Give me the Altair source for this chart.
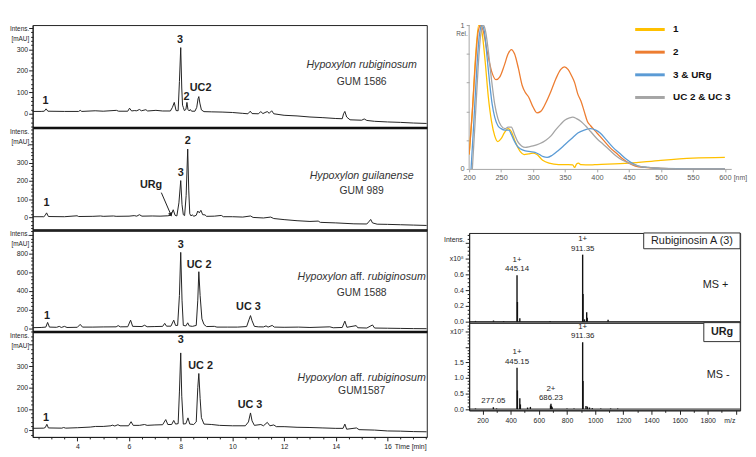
import altair as alt
import pandas as pd

FONT = "Liberation Sans"
INK = "#1e1e1e"
GREY = "#595959"

# ---------------- HPLC traces: (time [min], intensity [mAU]) ----------------
TRACE_1586 = [(2.07,11),(2.6,11),(2.72,12),(2.79,23),(2.86,12),(3.5,11),(4.05,11),(4.11,16),(4.17,11),(4.69,14),(5.0,12),(5.51,16),(5.6,12),(5.95,12),(6.02,26),(6.1,13),(6.2,15),(6.3,14),(6.4,20),(6.48,14),(6.65,19),(6.72,13),(7.04,16),(7.3,13),(7.6,13),(7.68,30),(7.75,53),(7.82,15),(7.9,14),(7.95,150),(8.0,308),(8.04,120),(8.07,40),(8.1,30),(8.14,15),(8.2,20),(8.24,53),(8.28,20),(8.33,13),(8.37,20),(8.42,12),(8.55,12),(8.62,30),(8.67,70),(8.7,80),(8.74,50),(8.8,18),(8.9,10),(9.2,9),(9.6,8),(10.0,6),(10.4,2),(10.6,0),(10.69,12),(10.76,1),(11.0,0),(11.1,10),(11.18,1),(11.3,8),(11.36,10),(11.42,2),(11.52,14),(11.6,0),(12.0,-7),(12.5,-10),(13.0,-15),(13.5,-18),(14.0,-22),(14.25,-23),(14.3,0),(14.35,11),(14.42,-15),(14.55,-28),(15.0,-30),(15.1,-24),(15.2,-31),(15.5,-35),(16.0,-38),(16.5,-40),(17.0,-43),(17.52,-45)]
TRACE_989 = [(2.07,4),(2.7,4),(2.75,10),(2.81,25),(2.88,5),(3.5,4),(3.99,9),(4.05,5),(4.6,6),(4.9,8),(5.0,6),(5.4,8),(5.5,6),(6.0,7),(6.2,10),(6.3,7),(6.4,15),(6.5,7),(6.9,8),(7.2,7),(7.5,9),(7.62,12),(7.71,42),(7.78,12),(7.85,8),(7.93,80),(8.0,202),(8.05,70),(8.1,15),(8.15,10),(8.21,120),(8.27,375),(8.31,150),(8.35,20),(8.4,8),(8.45,15),(8.5,6),(8.6,12),(8.66,35),(8.72,25),(8.78,39),(8.85,15),(8.94,14),(9.0,6),(9.3,7),(9.57,11),(9.65,4),(10.0,4),(10.4,2),(10.7,8),(10.8,0),(11.2,-3),(11.48,2),(11.6,-6),(12.0,-12),(12.5,-18),(13.0,-22),(13.32,-20),(13.4,-27),(14.0,-30),(14.7,-35),(15.2,-36),(15.3,-20),(15.35,-11),(15.42,-30),(15.6,-37),(16.0,-38),(16.5,-40),(17.0,-42),(17.52,-44)]
TRACE_1588 = [(2.07,5),(2.6,8),(2.78,12),(2.85,62),(2.92,12),(3.2,10),(3.3,20),(3.38,8),(3.5,20),(3.6,8),(4.0,10),(4.11,41),(4.2,12),(4.6,12),(5.0,14),(5.5,15),(5.58,28),(5.66,15),(5.95,16),(6.06,86),(6.14,20),(6.5,18),(6.6,32),(6.7,16),(7.0,18),(7.3,20),(7.38,52),(7.45,22),(7.62,22),(7.73,86),(7.8,30),(7.88,30),(7.95,350),(8.0,811),(8.05,300),(8.1,30),(8.2,25),(8.27,58),(8.33,25),(8.45,20),(8.6,30),(8.66,300),(8.7,604),(8.75,350),(8.82,100),(8.9,40),(9.0,18),(9.3,20),(9.4,12),(9.8,12),(10.2,12),(10.55,18),(10.64,90),(10.7,135),(10.76,80),(10.85,20),(11.0,15),(11.2,14),(11.3,25),(11.38,12),(11.54,30),(11.62,12),(12.0,10),(12.56,12),(13.0,8),(13.77,15),(13.9,5),(14.25,8),(14.35,76),(14.43,10),(14.79,28),(14.85,5),(15.2,2),(15.42,35),(15.5,2),(16.0,0),(16.5,-2),(17.0,-4),(17.52,-5)]
TRACE_1587 = [(2.07,10),(2.7,11),(2.76,14),(2.82,29),(2.88,12),(3.4,11),(3.47,14),(3.55,11),(4.0,13),(4.5,16),(4.7,19),(5.0,19),(5.3,22),(5.35,25),(5.45,21),(5.57,27),(5.65,22),(5.98,22),(6.08,41),(6.16,24),(6.4,24),(6.6,28),(6.7,24),(7.0,26),(7.3,27),(7.42,51),(7.5,28),(7.65,28),(7.73,47),(7.8,30),(7.9,32),(7.95,180),(8.0,362),(8.04,160),(8.1,30),(8.2,32),(8.28,59),(8.35,30),(8.5,28),(8.6,40),(8.66,200),(8.7,266),(8.75,150),(8.8,60),(8.9,30),(9.2,28),(9.5,24),(10.0,22),(10.5,22),(10.62,40),(10.7,82),(10.76,45),(10.85,24),(11.1,28),(11.2,22),(11.35,38),(11.45,22),(11.6,26),(11.7,18),(12.0,18),(12.5,15),(13.0,14),(13.5,12),(14.0,10),(14.28,10),(14.35,30),(14.42,6),(14.8,12),(14.9,4),(15.5,2),(16.0,-2),(16.5,-3),(17.0,-5),(17.52,-6)]

# peak labels: (text, time, intensity at label centre)
PEAKS_1586 = [("1", 2.77, 57), ("3", 7.97, 341), ("2", 8.22, 78), ("UC2", 8.77, 120)]
PEAKS_989 = [("1", 2.81, 78), ("URg", 6.85, 180), ("3", 8.0, 242), ("2", 8.27, 419)]
PEAKS_1588 = [("1", 2.83, 131), ("3", 8.0, 894), ("UC 2", 8.71, 677), ("UC 3", 10.62, 231)]
PEAKS_1587 = [("1", 2.79, 60), ("3", 8.0, 420), ("UC 2", 8.77, 303), ("UC 3", 10.68, 121)]
URG_ARROW = [(7.25, 136), (7.61, 18)]

# strain captions: (species text, strain text, time, species y, strain y)
CAPTION_1586 = ("Hypoxylon rubiginosum", "GUM 1586", 15.0, 225, 147)
CAPTION_989 = ("Hypoxylon guilanense", "GUM 989", 15.0, 228, 145)
CAPTION_1588 = ("aff", "GUM 1588", 15.0, 542, 379)
CAPTION_1587 = ("aff", "GUM1587", 15.0, 245, 186)

# ---------------- UV spectra: (wavelength [nm], relative absorbance) ----------------
UV_1 = [(200,0.1),(205,0.4),(210,0.78),(215,1.0),(220,0.95),(225,0.75),(230,0.5),(235,0.33),(240,0.23),(245,0.19),(250,0.21),(255,0.25),(261,0.28),(266,0.26),(272,0.19),(280,0.12),(286,0.1),(293,0.105),(300,0.11),(306,0.1),(315,0.06),(325,0.04),(340,0.03),(355,0.03),(362,0.028),(365,0.01),(368,0.035),(371,0.04),(375,0.03),(390,0.028),(400,0.03),(450,0.04),(500,0.06),(550,0.075),(600,0.08)]
UV_2 = [(200,0.1),(205,0.4),(210,0.75),(214,0.95),(218,1.0),(222,0.96),(228,0.82),(235,0.68),(242,0.62),(248,0.64),(255,0.72),(261,0.8),(266,0.83),(271,0.8),(277,0.7),(283,0.58),(288,0.53),(293,0.5),(300,0.43),(306,0.39),(312,0.4),(320,0.46),(328,0.54),(336,0.63),(343,0.69),(349,0.71),(355,0.69),(360,0.65),(365,0.6),(370,0.52),(375,0.47),(380,0.4),(385,0.33),(390,0.3),(400,0.25),(410,0.2),(420,0.15),(430,0.11),(440,0.07),(450,0.04),(460,0.02),(475,0.01),(500,0.004),(550,0.0),(600,0.0)]
UV_3 = [(203,0.0),(207,0.3),(212,0.7),(216,0.93),(220,1.0),(224,0.95),(228,0.78),(232,0.6),(236,0.45),(240,0.36),(245,0.3),(250,0.28),(256,0.27),(262,0.27),(266,0.24),(270,0.2),(275,0.16),(280,0.14),(288,0.125),(296,0.12),(303,0.115),(310,0.1),(316,0.085),(322,0.08),(330,0.095),(340,0.13),(350,0.17),(360,0.21),(370,0.25),(380,0.27),(390,0.28),(398,0.27),(405,0.25),(415,0.2),(425,0.15),(435,0.11),(445,0.07),(455,0.04),(465,0.02),(480,0.01),(500,0.003),(550,0.0),(600,0.0)]
UV_UC = [(205,0.0),(209,0.3),(214,0.7),(218,0.93),(222,1.0),(226,0.95),(230,0.82),(235,0.62),(240,0.45),(245,0.35),(250,0.3),(256,0.28),(261,0.29),(266,0.29),(271,0.24),(276,0.19),(282,0.16),(288,0.15),(295,0.155),(300,0.16),(310,0.175),(320,0.2),(328,0.23),(335,0.27),(343,0.31),(350,0.34),(357,0.355),(362,0.36),(368,0.35),(375,0.33),(382,0.3),(390,0.26),(400,0.21),(410,0.17),(420,0.13),(430,0.09),(440,0.06),(450,0.04),(465,0.02),(480,0.01),(500,0.004),(550,0.0),(600,0.0)]
UV_SERIES = ["1", "2", "3 & URg", "UC 2 & UC 3"]
UV_COLORS = ["#FFC000", "#ED7D31", "#5B9BD5", "#A5A5A5"]

# ---------------- MS spectra: (m/z, intensity) ----------------
MS_POS = [(150,0.01),(278,0.015),(350,0.008),(445.14,0.59),(448,0.25),(465,0.045),(680,0.008),(911.35,0.85),(914,0.35),(925,0.03),(940,0.12),(944,0.05),(1092,0.025)]
MS_NEG = [(150,0.02),(277.05,0.06),(300,0.02),(445.15,1.33),(448,0.6),(465,0.35),(469,0.15),(520,0.05),(540,0.07),(683,0.12),(686.23,0.17),(690,0.1),(695,0.06),(800,0.02),(850,0.02),(911.36,2.15),(914,0.9),(935,0.1),(945,0.08),(960,0.05),(980,0.03),(1040,0.02),(1110,0.02),(1160,0.02)]
# (charge, m/z text, m/z, intensity)
MS_POS_LABELS = [("1+", "445.14", 445.14, 0.59), ("1+", "911.35", 911.35, 0.85)]
MS_NEG_LABELS = [("", "277.05", 277.05, 0.06), ("1+", "445.15", 445.15, 1.33), ("2+", "686.23", 686.23, 0.17), ("1+", "911.36", 911.36, 2.15)]

# ====================================================================
T_DOMAIN = [2.27, 17.52]
LEFT_W = 400


def chrom_panel(trace, ydom, h, step, major, label_max, peaks, caption, bottom, arrow=None):
    df = pd.DataFrame(trace, columns=["t", "mAU"])
    yvals = [v for v in range(-1000, 1200, step) if ydom[0] <= v <= ydom[1]]
    is_major = f"datum.value % {major} === 0"
    yaxis = alt.Axis(
        values=yvals,
        labelExpr=f"({is_major} && datum.value >= 0 && datum.value <= {label_max}) ? datum.label : ''",
        tickSize={"condition": {"test": is_major, "value": 4}, "value": 2},
        tickColor=INK, domainColor=INK, labelColor=INK, labelFontSize=7, labelPadding=1,
        labelOverlap=False, labelFlush=False, grid=False,
        title=["Intens.", "[mAU]"], titleAngle=0, titleAlign="right", titleBaseline="top",
        titleX=-4, titleY=1, titleFontSize=6.5, titleFontWeight="normal", titleLineHeight=10,
        titleColor=INK,
    )
    if bottom:
        xaxis = alt.Axis(
            values=[v / 2 for v in range(5, 36)],
            labelExpr="datum.value % 2 === 0 ? format(datum.value, 'd') : ''",
            tickSize={"condition": {"test": "datum.value % 2 === 0", "value": 4}, "value": 2},
            tickColor=INK, domainColor=INK, labelColor=INK, labelFontSize=7, labelPadding=2,
            labelOverlap=False, labelFlush=False, grid=False,
            title="Time [min]", titleX=367, titleY=6, titleAlign="left", titleBaseline="top",
            titleFontSize=7, titleFontWeight="normal", titleColor=INK,
        )
    else:
        xaxis = alt.Axis(labels=False, ticks=False, domainWidth=2.5, domainColor="#000",
                         grid=False, title=None)
    xs = alt.Scale(domain=T_DOMAIN, nice=False, zero=False)
    ys = alt.Scale(domain=ydom, nice=False, zero=False)
    X = alt.X("t:Q", scale=xs, axis=xaxis)
    Y = alt.Y("mAU:Q", scale=ys, axis=yaxis)

    line = alt.Chart(df).mark_line(color="#222", strokeWidth=1, clip=True).encode(x=X, y=Y)
    pk = pd.DataFrame(peaks, columns=["label", "t", "mAU"])
    pk_text = alt.Chart(pk).mark_text(fontSize=11, fontWeight="bold", color=INK, baseline="middle",
                                      font=FONT).encode(x=X, y=Y, text="label:N")
    layers = [line, pk_text]

    species, strain, ct, sy, gy = caption
    sp = pd.DataFrame({"t": [ct], "mAU": [sy]})
    if species == "aff":
        layers += [
            alt.Chart(sp).mark_text(text="Hypoxylon", fontStyle="italic", fontSize=10.8, align="right",
                                    dx=-14.7, color="#333", font=FONT).encode(x=X, y=Y),
            alt.Chart(sp).mark_text(text="aff.", fontSize=10.8, align="left", dx=-11.7,
                                    color="#333", font=FONT).encode(x=X, y=Y),
            alt.Chart(sp).mark_text(text="rubiginosum", fontStyle="italic", fontSize=10.8, align="left",
                                    dx=6.3, color="#333", font=FONT).encode(x=X, y=Y),
        ]
    else:
        layers.append(alt.Chart(sp).mark_text(text=species, fontStyle="italic", fontSize=10.8,
                                              color="#333", font=FONT).encode(x=X, y=Y))
    gm = pd.DataFrame({"t": [ct], "mAU": [gy]})
    layers.append(alt.Chart(gm).mark_text(text=strain, fontSize=10.5, color="#333", font=FONT)
                  .encode(x=X, y=Y))
    if arrow is not None:
        adf = pd.DataFrame(arrow, columns=["t", "mAU"])
        layers.append(alt.Chart(adf).mark_line(color=INK, strokeWidth=1).encode(x=X, y=Y))
        hdf = adf.tail(1)
        layers.append(alt.Chart(hdf).mark_point(shape="triangle", angle=157, filled=True, size=22,
                                                color=INK, opacity=1).encode(x=X, y=Y))
    return alt.layer(*layers).properties(width=LEFT_W, height=h)


p1 = chrom_panel(TRACE_1586, [-64, 413], 104, 20, 100, 300, PEAKS_1586, CAPTION_1586, False)
p2 = chrom_panel(TRACE_989, [-69, 493], 104, 20, 100, 300, PEAKS_989, CAPTION_989, False, URG_ARROW)
p3 = chrom_panel(TRACE_1588, [-35, 1050], 103, 40, 200, 800, PEAKS_1588, CAPTION_1588, False)
p4 = chrom_panel(TRACE_1587, [-30, 462], 107, 20, 100, 300, PEAKS_1587, CAPTION_1587, True)

left = alt.vconcat(p1, p2, p3, p4, spacing=0, bounds="flush").resolve_scale(x="independent", y="independent")

# ---------------- UV spectra ----------------
uv_rows = []
for name, pts in zip(UV_SERIES, [UV_1, UV_2, UV_3, UV_UC]):
    for nm, r in pts:
        uv_rows.append({"nm": nm, "rel": r, "series": name})
uv_df = pd.DataFrame(uv_rows)

UV_W = 266
UV_PLOT_H = 146
UV_GAP = 65
uv_x = alt.X("nm:Q", scale=alt.Scale(domain=[200, 610], nice=False, zero=False),
             axis=alt.Axis(values=list(range(200, 601, 50)), offset=-UV_GAP, tickSize=3,
                           tickColor="#a6a6a6", domainColor="#a6a6a6", labelColor=GREY,
                           labelFontSize=7.5, labelPadding=2, labelFlush=False, labelOverlap=False,
                           grid=False, title="[nm]", titleX=268, titleY=5, titleAlign="left",
                           titleBaseline="top", titleFontSize=7, titleFontWeight="normal",
                           titleColor=GREY))
uv_y = alt.Y("rel:Q", scale=alt.Scale(domain=[-UV_GAP / UV_PLOT_H, 1.0], nice=False, zero=False),
             axis=alt.Axis(values=[0, 0.2, 0.4, 0.6, 0.8, 1.0],
                           labelExpr="datum.value == 0 ? '0' : (datum.value == 1 ? '1' : '')",
                           domain=False, tickSize=3, tickColor="#a6a6a6", labelColor=GREY,
                           labelFontSize=7.5, labelPadding=2, labelFlush=False, labelOverlap=False,
                           grid=False, title="Rel.", titleAngle=0, titleAlign="right",
                           titleBaseline="middle", titleX=-2, titleY=9, titleFontSize=6.5,
                           titleFontWeight="normal", titleColor=GREY))
uv_lines = alt.Chart(uv_df).mark_line(strokeWidth=1.3, interpolate="monotone", clip=True).encode(
    x=uv_x, y=uv_y,
    color=alt.Color("series:N", scale=alt.Scale(domain=UV_SERIES, range=UV_COLORS),
                    legend=alt.Legend(orient="none", legendX=177, legendY=-2, title=None,
                                      symbolType="M-3,0H3", symbolSize=100, symbolStrokeWidth=3,
                                      labelFontSize=10, labelFontWeight="bold", labelColor="#111",
                                      labelFont=FONT, labelOffset=17, rowPadding=10, padding=0)),
)
uv_axis_line = alt.Chart(pd.DataFrame({"nm": [200], "rel": [0.0], "rel2": [1.0]})).mark_rule(
    color="#a6a6a6", strokeWidth=1).encode(x=uv_x, y=uv_y, y2="rel2:Q")
uv = alt.layer(uv_axis_line, uv_lines).properties(
    width=UV_W, height=UV_PLOT_H + UV_GAP, view=alt.ViewBackground(stroke="transparent"))

# ---------------- MS spectra ----------------
MZ_DOMAIN = [105, 2030]
MS_W = 275


def ms_panel(peaks, labels, ydom, h, yvals, major_test, label_expr, box, box_text, box_bold,
             mode_text, mode_pos, bottom):
    df = pd.DataFrame(peaks, columns=["mz", "I"])
    if bottom:
        xaxis = alt.Axis(values=list(range(200, 2001, 100)),
                         labelExpr="(datum.value % 200 === 0 && datum.value <= 1800) ? format(datum.value, 'd') : ''",
                         tickSize={"condition": {"test": "datum.value % 200 === 0", "value": 4}, "value": 2},
                         tickColor=INK, domainColor=INK, labelColor=INK, labelFontSize=7,
                         labelPadding=2, labelOverlap=False, labelFlush=False, grid=False,
                         title="m/z", titleX=264, titleY=6, titleAlign="center", titleBaseline="top",
                         titleFontSize=7, titleFontWeight="normal", titleColor=INK)
    else:
        xaxis = None
    X = alt.X("mz:Q", scale=alt.Scale(domain=MZ_DOMAIN, nice=False, zero=False), axis=xaxis)
    yaxis_kw = dict(values=yvals, labelExpr=label_expr,
                    tickSize={"condition": {"test": major_test, "value": 4}, "value": 2},
                    tickColor=INK, domainColor=INK, labelColor=INK, labelFontSize=7, labelPadding=2,
                    labelOverlap=False, labelFlush=False, grid=False)
    if bottom:
        yaxis = alt.Axis(title=None, **yaxis_kw)
    else:
        yaxis = alt.Axis(title="Intens.", titleAngle=0, titleAlign="right", titleBaseline="middle",
                         titleX=-5, titleY=7, titleFontSize=7, titleFontWeight="normal",
                         titleColor=INK, **yaxis_kw)
    Y = alt.Y("I:Q", scale=alt.Scale(domain=ydom, nice=False, zero=False), axis=yaxis)

    sticks = alt.Chart(df).mark_rule(color="#111", strokeWidth=1.4).encode(x=X, y=Y, y2=alt.datum(0))
    base = alt.Chart(pd.DataFrame({"mz": [MZ_DOMAIN[0]], "mz2": [MZ_DOMAIN[1]], "I": [0.0]})).mark_rule(
        color="#111", strokeWidth=1).encode(x=X, x2="mz2:Q", y=Y)
    lab = pd.DataFrame(labels, columns=["charge", "mztext", "mz", "I"])
    mz_text = alt.Chart(lab).mark_text(fontSize=8, baseline="bottom", dy=-2, color=INK,
                                       font=FONT).encode(x=X, y=Y, text="mztext:N")
    ch_text = alt.Chart(lab).mark_text(fontSize=8, baseline="bottom", dy=-11.5, color=INK,
                                       font=FONT).encode(x=X, y=Y, text="charge:N")
    bx = pd.DataFrame([box], columns=["mz", "mz2", "I", "I2"])
    box_rect = alt.Chart(bx).mark_rect(fill="white", stroke="#333", strokeWidth=1).encode(
        x=X, x2="mz2:Q", y=Y, y2="I2:Q")
    bt = pd.DataFrame([box_text], columns=["label", "mz", "I"])
    box_lab = alt.Chart(bt).mark_text(fontSize=11, fontWeight="bold" if box_bold else "normal",
                                      color=INK, font=FONT).encode(x=X, y=Y, text="label:N")
    md = pd.DataFrame([(mode_text,) + mode_pos], columns=["label", "mz", "I"])
    mode = alt.Chart(md).mark_text(fontSize=11, color=INK, font=FONT).encode(x=X, y=Y, text="label:N")
    return alt.layer(base, sticks, mz_text, ch_text, box_rect, box_lab, mode).properties(width=MS_W, height=h)


top_vals = [round(i * 0.05, 2) for i in range(0, 23)]
top_major = "abs(datum.value*5 - round(datum.value*5)) < 0.001"
top_labels = ("abs(datum.value - 0.8) < 0.001 ? 'x10\u2078' : "
              f"(({top_major}) && datum.value < 0.7 ? format(datum.value, '.1f') : '')")
ms_top = ms_panel(MS_POS, MS_POS_LABELS, [-0.012, 1.125], 91, top_vals, top_major, top_labels,
                  (1345, 2030, 0.925, 1.125), ("Rubiginosin A (3)", 1688, 1.025), False,
                  "MS +", (1855, 0.46), False)

bot_vals = [round(i * 0.1, 1) for i in range(0, 28)]
bot_major = "abs(datum.value*2 - round(datum.value*2)) < 0.001"
bot_labels = ("abs(datum.value - 2.5) < 0.001 ? 'x10\u2077' : "
              f"(({bot_major}) && datum.value < 1.9 ? format(datum.value, '.1f') : '')")
ms_bot = ms_panel(MS_NEG, MS_NEG_LABELS, [-0.04, 2.78], 89, bot_vals, bot_major, bot_labels,
                  (1772, 2030, 2.17, 2.78), ("URg", 1902, 2.47), True,
                  "MS -", (1874, 1.08), True)

right = alt.vconcat(uv, ms_top, ms_bot, spacing=0, bounds="flush").resolve_scale(
    x="independent", y="independent", color="independent")

chart = alt.hconcat(left, right, spacing=15).resolve_scale(
    x="independent", y="independent", color="independent").properties(
    padding={"left": 0, "top": 9, "right": 0, "bottom": 0}, background="white"
).configure(font=FONT).configure_view(stroke="#222", strokeWidth=1)

chart.save("out.html", embed_options={"renderer": "svg", "actions": False})
